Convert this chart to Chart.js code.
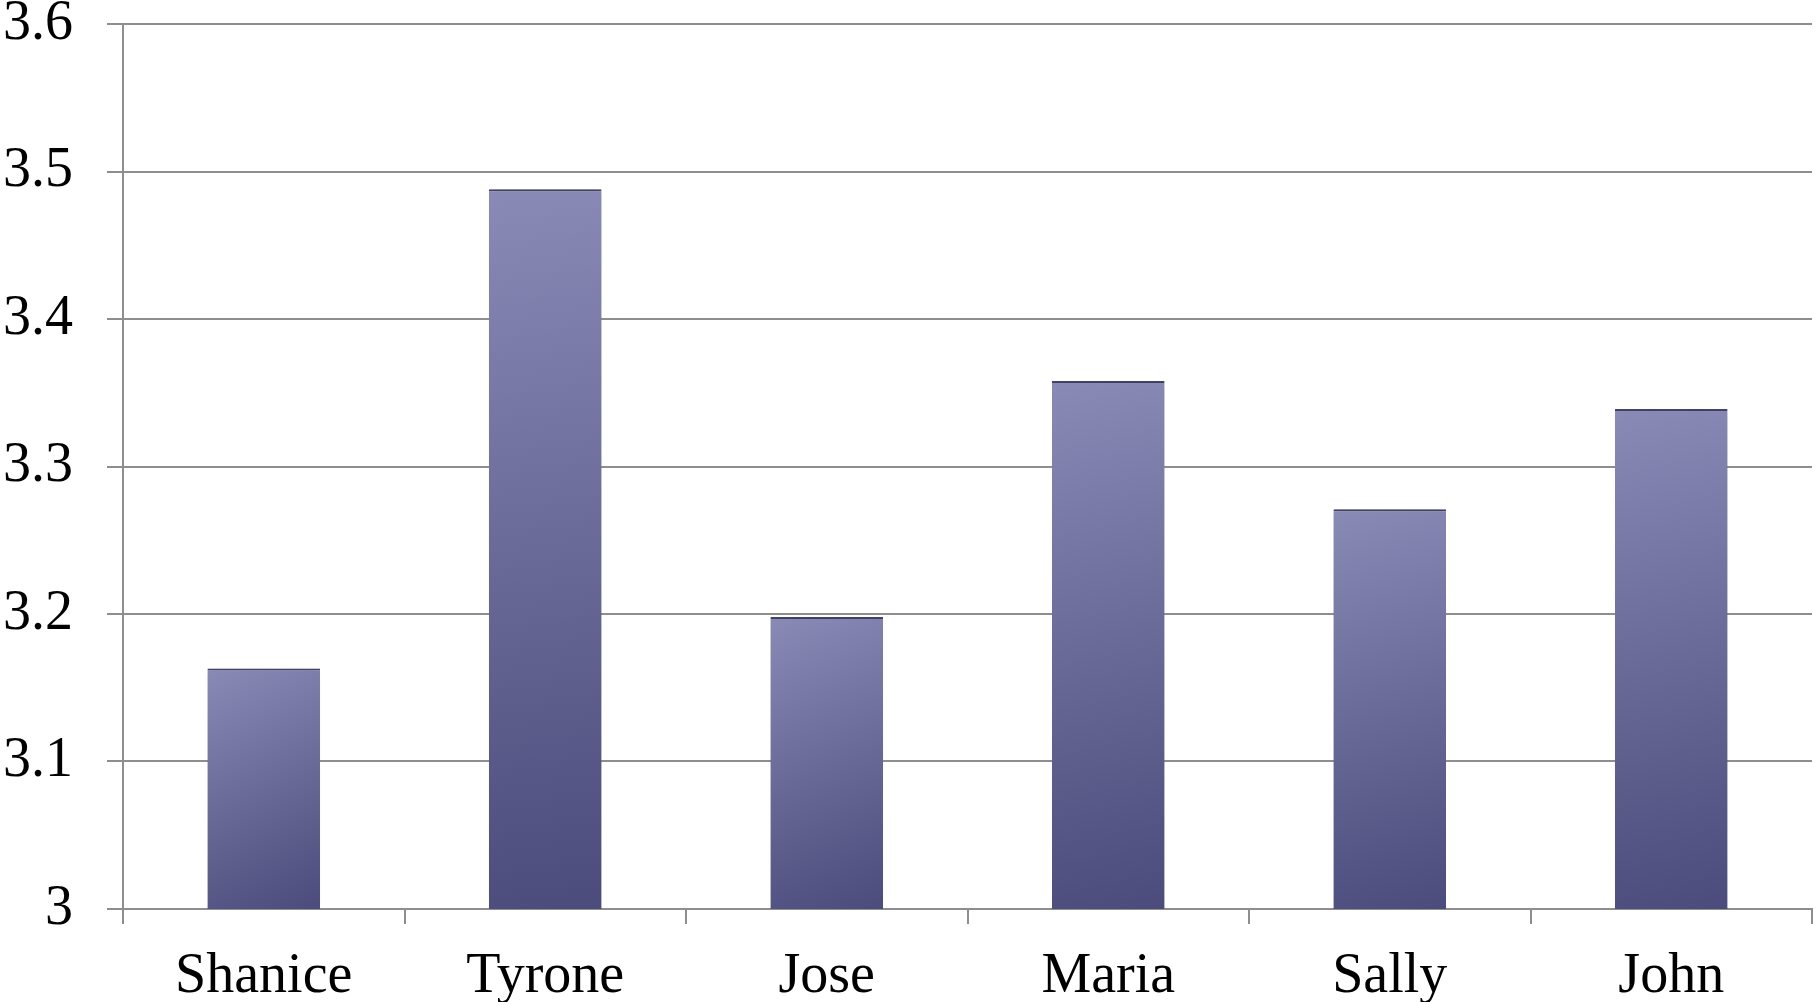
<!DOCTYPE html>
<html>
<head>
<meta charset="utf-8">
<script src="https://cdn.jsdelivr.net/npm/chart.js@4"></script>
<style>
  html, body { margin: 0; padding: 0; background: #ffffff; }
  #wrap { width: 1816px; height: 1002px; }
</style>
</head>
<body>
<div id="wrap"><canvas id="chart-scores" width="1816" height="1002"></canvas></div>
<script>
// data
const students = ['Shanice', 'Tyrone', 'Jose', 'Maria', 'Sally', 'John'];
const scores = [3.163, 3.488, 3.198, 3.358, 3.271, 3.339];
const yMin = 3;
const yMax = 3.6;
const yStep = 0.1;

const gridGray = '#8e8e8e';
const labelFont = { family: '"Liberation Serif", "Times New Roman", serif', size: 56 };

// per-bar gradient, light top-left to dark bottom
function barFill(context) {
  const chart = context.chart;
  if (!chart.chartArea || !chart.scales.y) return '#6a6a9a';
  const yScale = chart.scales.y;
  const xScale = chart.scales.x;
  const v = context.raw;
  const top = yScale.getPixelForValue(v);
  const bottom = yScale.getPixelForValue(yMin);
  const cx = xScale.getPixelForValue(context.dataIndex);
  const half = 57;
  const g = chart.ctx.createLinearGradient(cx - half, top, cx + half, bottom);
  g.addColorStop(0, '#8a8ab7');
  g.addColorStop(0.5, '#6a6a98');
  g.addColorStop(1, '#4b4b7c');
  return g;
}

// soft drop shadow behind the bars
const barShadow = {
  id: 'barShadow',
  beforeDatasetsDraw(chart) {
    const ctx = chart.ctx;
    ctx.save();
    ctx.shadowColor = 'rgba(0, 0, 0, 0.35)';
    ctx.shadowBlur = 7;
    ctx.shadowOffsetX = 0;
    ctx.shadowOffsetY = 2;
  },
  afterDatasetsDraw(chart) {
    chart.ctx.restore();
  }
};

const ctx = document.getElementById('chart-scores').getContext('2d');

new Chart(ctx, {
  type: 'bar',
  data: {
    labels: students,
    datasets: [{
      data: scores,
      backgroundColor: barFill,
      borderColor: '#45456f',
      borderWidth: { top: 2, left: 0, right: 0, bottom: 0 },
      borderSkipped: false,
      categoryPercentage: 1,
      barPercentage: 0.4
    }]
  },
  options: {
    responsive: false,
    animation: false,
    devicePixelRatio: 1,
    layout: {
      padding: { top: 24, right: 4, left: 0, bottom: 0 }
    },
    plugins: {
      legend: { display: false },
      tooltip: { enabled: false }
    },
    scales: {
      x: {
        grid: {
          offset: true,
          drawOnChartArea: false,
          drawTicks: true,
          tickLength: 15,
          color: gridGray,
          lineWidth: 2
        },
        border: { color: gridGray, width: 2 },
        ticks: {
          color: '#000000',
          font: labelFont,
          padding: 20,
          maxRotation: 0
        },
        afterFit(scale) {
          scale.height = 93;
          scale.paddingLeft = 0;
          scale.paddingRight = 0;
        }
      },
      y: {
        min: yMin,
        max: yMax,
        grid: {
          color: gridGray,
          lineWidth: 2,
          tickLength: 16
        },
        border: { color: gridGray, width: 2 },
        ticks: {
          stepSize: yStep,
          color: '#000000',
          font: labelFont,
          padding: 34,
          callback: function(value) {
            return String(Number(value.toFixed(1)));
          }
        },
        afterFit(scale) {
          scale.width = 123;
          scale.paddingTop = 0;
          scale.paddingBottom = 0;
        }
      }
    }
  },
  plugins: [barShadow]
});
</script>
</body>
</html>
